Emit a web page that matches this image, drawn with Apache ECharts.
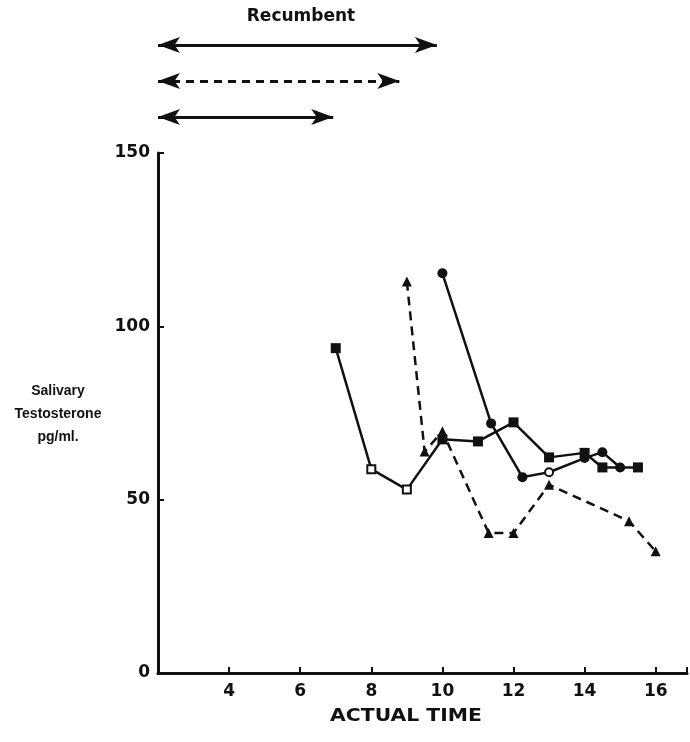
<!DOCTYPE html>
<html><head><meta charset="utf-8">
<script src="https://cdn.jsdelivr.net/npm/echarts@6/dist/echarts.min.js"></script>
<style>html,body{margin:0;background:#fff}#c{width:690px;height:742px}</style>
</head><body><div id="c"></div>
<script>
// ---- data ----
const xTicks = [4, 6, 8, 10, 12, 14, 16];
const yTicks = [0, 50, 100, 150];
// solid line, squares
const sqTime = [7, 8, 9, 10, 11, 12, 13, 14, 14.5, 15.5];
const sqVal  = [93.7, 58.8, 52.9, 67.4, 66.8, 72.3, 62.2, 63.5, 59.3, 59.3];
const sqOpen = [8, 9];
// solid line, circles
const ciTime = [10, 11.37, 12.25, 13, 14, 14.5, 15];
const ciVal  = [115.3, 72.0, 56.5, 57.9, 62.0, 63.7, 59.3];
const ciOpen = [13];
// dashed line, triangles
const trTime = [9, 9.5, 10, 11.3, 12, 13, 15.25, 16];
const trVal  = [112.9, 63.9, 69.7, 40.4, 40.4, 54.3, 43.8, 35.1];
// recumbent periods (rows from top)
const recRow    = [1, 2, 3];
const recStart  = [2, 2, 2];
const recEnd    = [9.8, 8.75, 6.9];
const recDashed = [false, true, false];
const recLabel = 'Recumbent';
const yTitle = 'Salivary\nTestosterone\npg/ml.';
const xTitle = 'ACTUAL TIME';

const X_MIN = 2, X_MAX = 16.88;
const INK = '#111';
const FONT = '"DejaVu Sans", "Liberation Sans", Arial, sans-serif';
const FONT2 = '"Liberation Sans", Arial, Helvetica, sans-serif';

function pts(t, v, open, size) {
  return t.map((x, i) => {
    const o = { value: [x, v[i]] };
    if (open.indexOf(x) >= 0) {
      o.itemStyle = { color: '#fff', borderColor: INK, borderWidth: 2 };
      o.symbolSize = size - 2;
    }
    return o;
  });
}

const chart = echarts.init(document.getElementById('c'), null, { renderer: 'canvas' });

const recLines = recRow.map((r, i) => ({
  coords: [[recStart[i], r], [recEnd[i], r]],
  lineStyle: { type: recDashed[i] ? [8, 6] : 'solid' }
}));

chart.setOption({
  animation: false,
  backgroundColor: '#fff',
  textStyle: { fontFamily: FONT },
  grid: [
    { left: 158, right: 0, top: 153, bottom: 69 },
    { left: 158, right: 0, top: 9, height: 144 }
  ],
  xAxis: [{
    gridIndex: 0, type: 'value', min: X_MIN, max: X_MAX, interval: 2,
    axisLine: { lineStyle: { color: INK, width: 3 } },
    axisTick: { inside: true, length: 6, lineStyle: { color: INK, width: 2 } },
    splitLine: { show: false },
    axisLabel: {
      color: INK, fontSize: 17, fontWeight: 'bold', margin: 10, fontFamily: FONT,
      formatter: v => xTicks.indexOf(v) >= 0 ? String(v) : ''
    }
  }, {
    gridIndex: 1, type: 'value', min: X_MIN, max: X_MAX, show: false
  }],
  yAxis: [{
    gridIndex: 0, type: 'value', min: 0, max: 150, interval: 50,
    axisLine: { show: true, lineStyle: { color: INK, width: 3 } },
    axisTick: { show: true, inside: true, length: 6, lineStyle: { color: INK, width: 2 } },
    splitLine: { show: false },
    axisLabel: {
      color: INK, fontSize: 17, fontWeight: 'bold', margin: 8, fontFamily: FONT,
      formatter: v => yTicks.indexOf(v) >= 0 ? String(v) : ''
    }
  }, {
    gridIndex: 1, type: 'value', min: 0, max: 4, inverse: true, show: false
  }],
  graphic: [
    { type: 'text', x: 58, y: 414, style: { text: yTitle, align: 'center', verticalAlign: 'middle',
      fill: INK, fontSize: 14, fontWeight: 'bold', fontFamily: FONT2, lineHeight: 23 } },
    { type: 'text', x: 406, y: 716, scaleX: 1.13, style: { text: xTitle, fill: INK, align: 'center', verticalAlign: 'middle',
      fontSize: 18, fontWeight: 'bold', fontFamily: FONT } },
    { type: 'text', x: 301, y: 17, style: { text: recLabel, fill: INK, align: 'center', verticalAlign: 'middle',
      fontSize: 17, fontWeight: 'bold', fontFamily: FONT } }
  ],
  series: [
    {
      type: 'line', xAxisIndex: 1, yAxisIndex: 1, data: [], silent: true,
      markLine: {
        silent: true, animation: false,
        symbol: ['arrow', 'arrow'], symbolSize: [12, 22],
        label: { show: false },
        lineStyle: { color: INK, width: 3 },
        data: recLines.map(l => [
          { coord: l.coords[0], lineStyle: l.lineStyle },
          { coord: l.coords[1] }
        ])
      }
    },
    {
      name: 'circles', type: 'line', symbol: 'circle', symbolSize: 10,
      data: pts(ciTime, ciVal, ciOpen, 10),
      lineStyle: { color: INK, width: 2.5 }, itemStyle: { color: INK },
      z: 3
    },
    {
      name: 'triangles', type: 'line', symbol: 'triangle', symbolSize: 10,
      data: pts(trTime, trVal, [], 10),
      lineStyle: { color: INK, width: 2.5, type: [9, 6] }, itemStyle: { color: INK },
      z: 4
    },
    {
      name: 'squares', type: 'line', symbol: 'rect', symbolSize: 10,
      data: pts(sqTime, sqVal, sqOpen, 10),
      lineStyle: { color: INK, width: 2.5 }, itemStyle: { color: INK },
      z: 3
    }
  ]
});
</script>
</body></html>
